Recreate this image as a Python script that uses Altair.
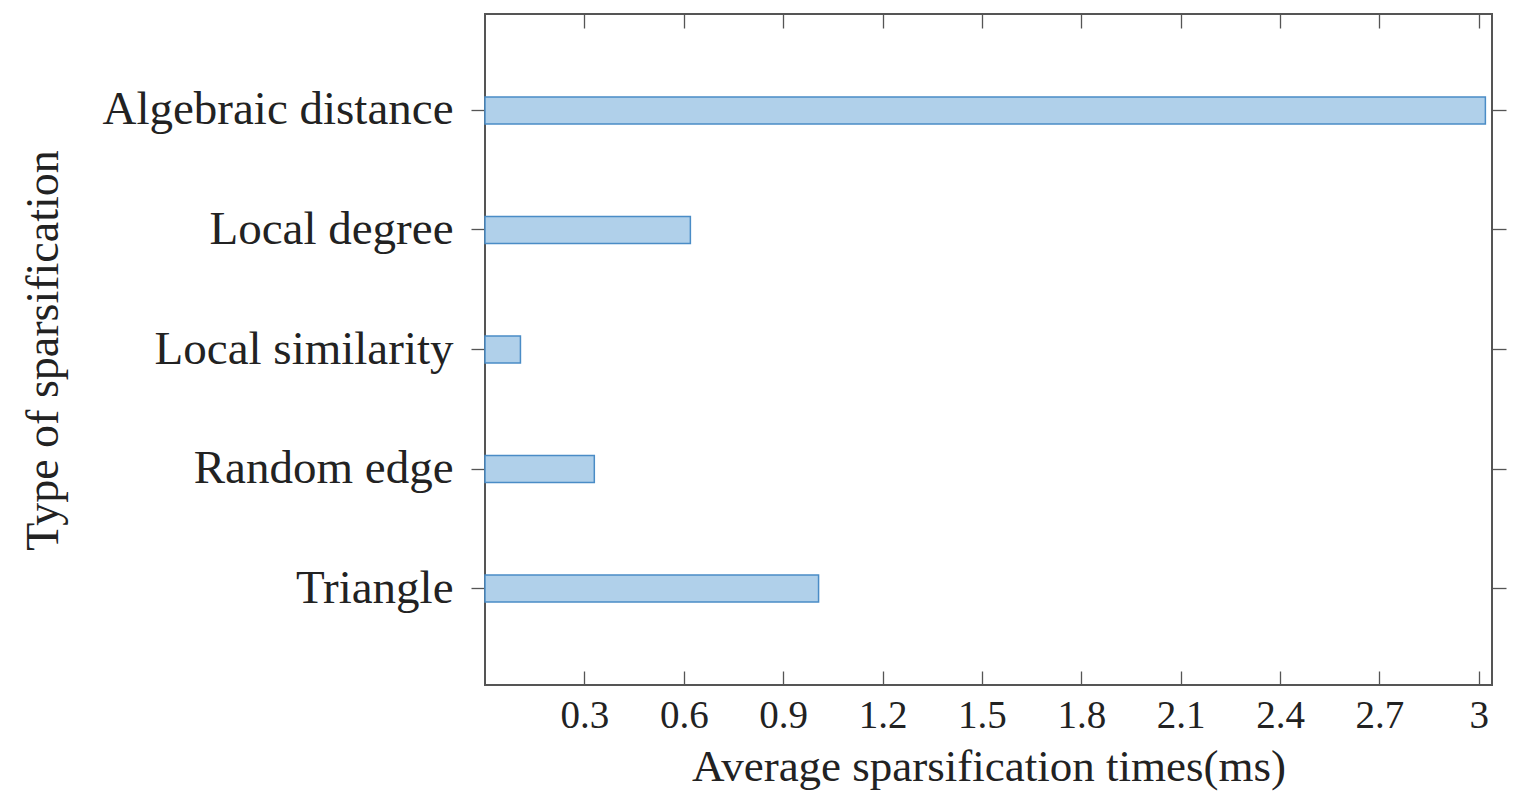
import altair as alt
import pandas as pd

categories = ["Algebraic distance", "Local degree", "Local similarity", "Random edge", "Triangle"]
times_ms = [3.02, 0.62, 0.107, 0.33, 1.007]
x_ticks = [0.3, 0.6, 0.9, 1.2, 1.5, 1.8, 2.1, 2.4, 2.7, 3.0]

df = pd.DataFrame({"type": categories, "time": times_ms})

FONT = "Liberation Serif"
AX = "#555555"
TXT = "#222222"

x_scale = alt.Scale(domain=[0, 3.04], nice=False, zero=False)
y_scale = alt.Scale(type="band", domain=categories, paddingInner=0, paddingOuter=0.307)

bars = alt.Chart(df).mark_bar(
    size=27, fill="#b0d0ea", stroke="#4a8cc6", strokeWidth=1.5
).encode(
    x=alt.X("time:Q", scale=x_scale,
            axis=alt.Axis(orient="bottom", values=x_ticks, format=".1~f",
                          domain=False, grid=False, offset=-14, tickSize=14,
                          tickColor=AX, tickWidth=1.3,
                          labelFont=FONT, labelFontSize=39, labelColor=TXT,
                          labelPadding=11, labelFlush=False,
                          title="Average sparsification times(ms)",
                          titleFont=FONT, titleFontSize=45, titleFontWeight="normal",
                          titleColor=TXT, titleBaseline="alphabetic",
                          titleY=109)),
    y=alt.Y("type:N", scale=y_scale, sort=categories,
            axis=alt.Axis(orient="left", domain=False, grid=False, tickSize=14,
                          tickColor=AX, tickWidth=1.3,
                          labelFont=FONT, labelFontSize=47, labelColor=TXT,
                          labelPadding=18, labelLimit=1000,
                          title="Type of sparsification",
                          titleFont=FONT, titleFontSize=46, titleFontWeight="normal",
                          titleColor=TXT, titleBaseline="alphabetic",
                          titleAngle=-90, titleX=-428, titleY=336)),
)

top_ticks = alt.Chart(df).mark_point(opacity=0).encode(
    x=alt.X("time:Q", scale=x_scale,
            axis=alt.Axis(orient="top", values=x_ticks, labels=False, domain=False,
                          grid=False, offset=-14, tickSize=14, tickColor=AX,
                          tickWidth=1.3, title=None)),
    y=alt.Y("type:N", scale=y_scale, sort=categories,
            axis=alt.Axis(orient="right", labels=False, domain=False, grid=False,
                          tickSize=14, tickColor=AX, tickWidth=1.3, title=None)),
)

chart = alt.layer(bars, top_ticks).resolve_axis(x="independent", y="independent").properties(
    width=1007, height=671,
    autosize=alt.AutoSizeParams(type="none"),
    padding={"left": 477, "top": 6, "right": 16, "bottom": 108},
    background="white",
).configure_view(stroke=AX, strokeWidth=2)

chart.save("out.html", embed_options={"renderer": "svg", "actions": False})
